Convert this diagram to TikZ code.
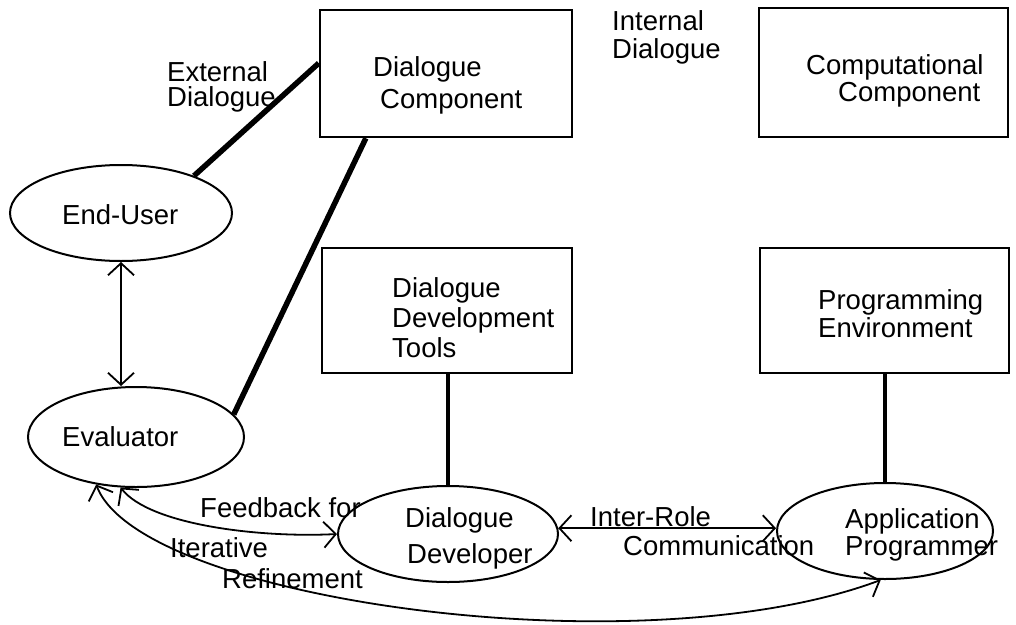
\documentclass[tikz,border=0pt]{standalone}
\usepackage{fontspec}
\setmainfont{Liberation Sans}
\usetikzlibrary{shapes.geometric,arrows.meta,calc}
\begin{document}
\begin{tikzpicture}[x=1pt,y=-1pt,
  lbl/.style={anchor=base west,inner sep=0pt,font=\fontsize{27.5}{30}\selectfont},
  boxnode/.style={draw,line width=2.5pt,inner sep=0pt},
  ell/.style={draw,ellipse,line width=2pt,inner sep=0pt},
  heavy/.style={line width=5.5pt},
  stem/.style={line width=3.5pt},
  dbl/.style={line width=1.8pt,{Straight Barb[length=12pt,width=26pt]}-{Straight Barb[length=12pt,width=26pt]}}
]
\useasboundingbox (0,0) rectangle (1016,624);
% boxes
\node[boxnode,minimum width=252pt,minimum height=127pt] (dc) at (446,73.5) {};
\node[boxnode,minimum width=249pt,minimum height=129pt] (cc) at (883.5,72.5) {};
\node[boxnode,minimum width=250pt,minimum height=125pt] (ddt) at (447,310.5) {};
\node[boxnode,minimum width=249pt,minimum height=125pt] (pe) at (884.5,310.5) {};
% ellipses
\node[ell,minimum width=222pt,minimum height=96pt] (eu) at (121,213) {};
\node[ell,minimum width=216pt,minimum height=100pt] (ev) at (136,437) {};
\node[ell,minimum width=220pt,minimum height=96pt] (dd) at (448,534) {};
\node[ell,minimum width=216pt,minimum height=96pt] (ap) at (885,531) {};
% texts
\node[lbl] (t1) at (167,81) {External};
\node[lbl] (t2) at (167,106) {Dialogue};
\node[lbl] (t3) at (373,76) {Dialogue};
\node[lbl] (t4) at (380,108) {Component};
\node[lbl] (t5) at (612,30) {Internal};
\node[lbl] (t6) at (612,58) {Dialogue};
\node[lbl] (t7) at (806,74) {Computational};
\node[lbl] (t8) at (838,101) {Component};
\node[lbl] (t9) at (62,224) {End-User};
\node[lbl] (t10) at (392,297) {Dialogue};
\node[lbl] (t11) at (392,327) {Development};
\node[lbl] (t12) at (392,357) {Tools};
\node[lbl] (t13) at (818,309) {Programming};
\node[lbl] (t14) at (818,337) {Environment};
\node[lbl] (t15) at (62,446) {Evaluator};
\node[lbl] (t16) at (200,517) {Feedback for};
\node[lbl] (t17) at (170,557) {Iterative};
\node[lbl] (t18) at (222,588) {Refinement};
\node[lbl] (t19) at (405,527) {Dialogue};
\node[lbl] (t20) at (407,563) {Developer};
\node[lbl] (t21) at (590,526) {Inter-Role};
\node[lbl] (t22) at (623,555) {Communication};
\node[lbl] (t23) at (845,528) {Application};
\node[lbl] (t24) at (845,555) {Programmer};
% connectors
\draw[heavy] (eu.27) -- ($(dc.north west)!0.42!(dc.south west)$);
\draw[heavy] (ev.13) -- ($(dc.south west)!0.185!(dc.south east)$);
\draw[stem] (dd.north) -- (dd.north |- ddt.south);
\draw[stem] (ap.north) -- (ap.north |- pe.south);
\draw[dbl] (eu.south) -- (eu.south |- ev.north);
\draw[dbl] (dd.3) -- (dd.3 -| ap.west);
\draw[dbl] (ev.253) .. controls (150,525) and (260,538) .. (dd.west);
\draw[dbl] (ev.230) .. controls (140,600) and (640,670) .. (ap.265);
\end{tikzpicture}
\end{document}
